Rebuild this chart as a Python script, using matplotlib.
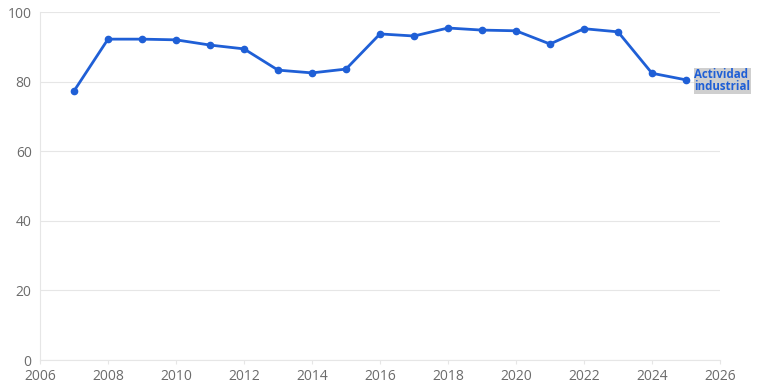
import matplotlib
matplotlib.use("Agg")
import matplotlib.pyplot as plt

years = [2007, 2008, 2009, 2010, 2011, 2012, 2013, 2014, 2015, 2016,
         2017, 2018, 2019, 2020, 2021, 2022, 2023, 2024, 2025]
actividad = [77.3, 92.2, 92.2, 92.0, 90.5, 89.4, 83.3, 82.5, 83.6, 93.7,
             93.1, 95.4, 94.8, 94.6, 90.8, 95.2, 94.3, 82.4, 80.5]
serie = "Actividad\nindustrial"
xticks = list(range(2006, 2027, 2))
yticks = [0, 20, 40, 60, 80, 100]

plt.rcParams["font.family"] = ["Open Sans", "DejaVu Sans"]
blue = "#1f5fd6"

fig = plt.figure(figsize=(7.68, 3.89), dpi=100)
ax = fig.add_axes([40 / 768, 29 / 389, 680 / 768, 348 / 389])
ax.plot(years, actividad, "-o", color=blue, lw=2, ms=4.5, clip_on=False, zorder=3)

ax.set_xlim(2006, 2026); ax.set_ylim(0, 100)
ax.set_xticks(xticks); ax.set_yticks(yticks)
ax.grid(axis="y", color="#e6e6e6", lw=0.8)
for s in ["top", "right"]: ax.spines[s].set_visible(False)
for s in ["left", "bottom"]: ax.spines[s].set_color("#e6e6e6")
ax.tick_params(colors="#6b6b6b", labelsize=10, length=3, color="#e6e6e6")
ax.tick_params(axis="y", length=0, pad=6)

ax.text(years[-1] + 0.25, actividad[-1] - 0.3, serie, color=blue, fontsize=8.3, fontweight="bold",
        va="center", ha="left", linespacing=0.9,
        bbox=dict(facecolor="#cfcfcf", edgecolor="none", pad=0.5))

fig.savefig("out.png", dpi=100)
